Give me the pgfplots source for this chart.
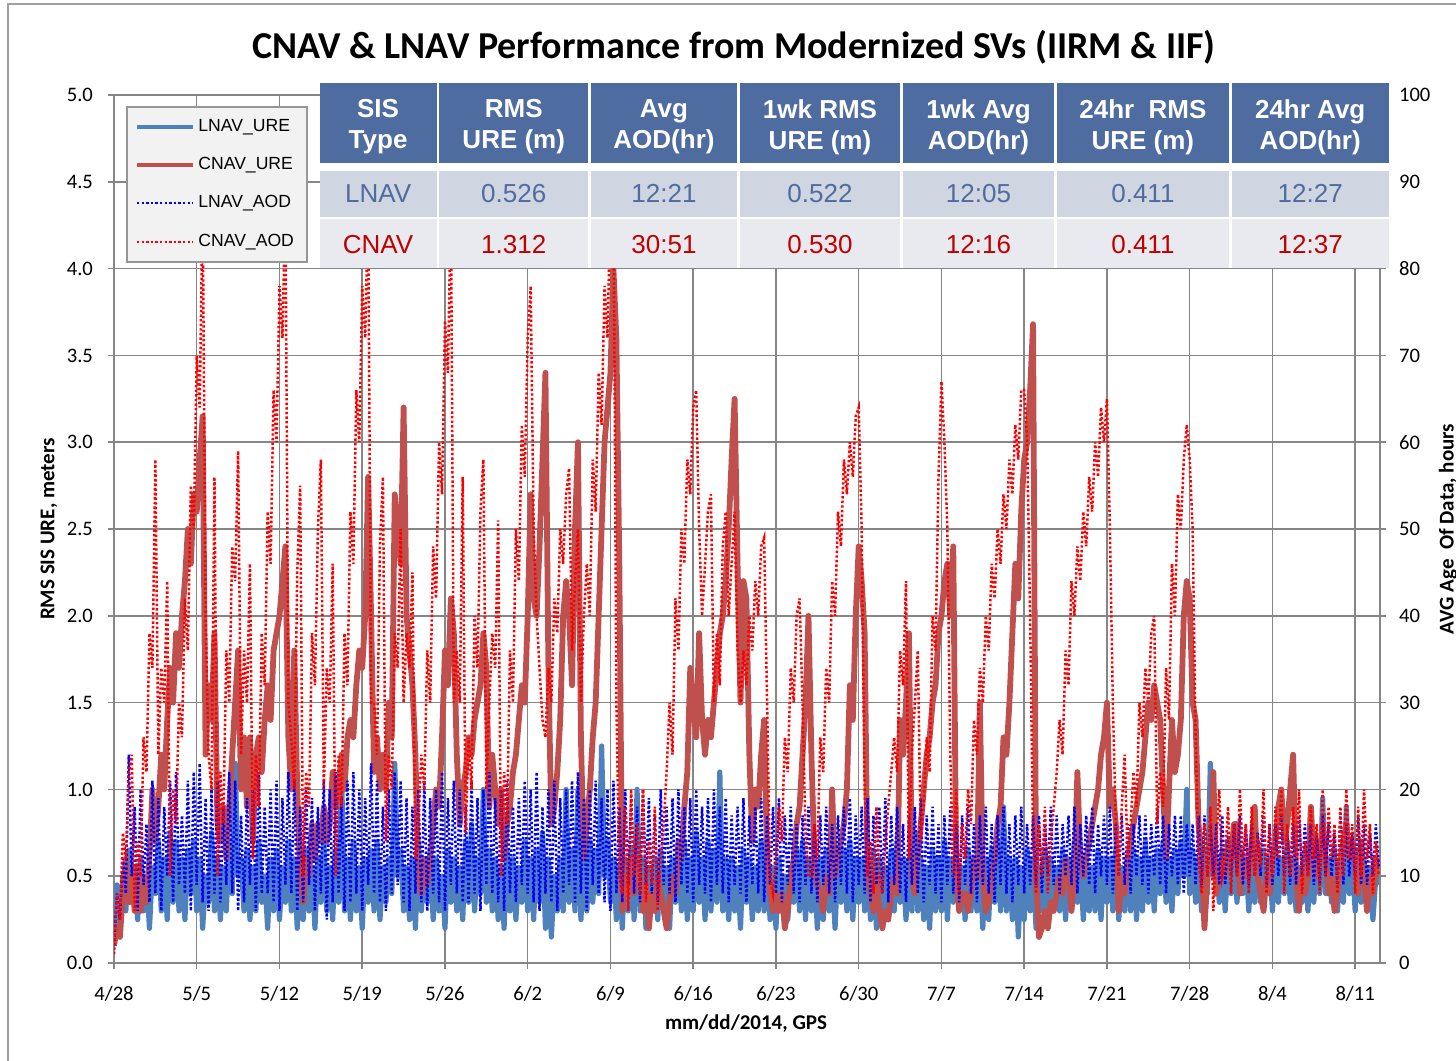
\documentclass[border=0pt]{standalone}
\usepackage{fontspec}
\setmainfont{Carlito}
\newfontfamily\arialf{Liberation Sans}
\usepackage{pgfplots}
\pgfplotsset{compat=1.18}
\definecolor{lnavure}{RGB}{79,129,189}
\definecolor{cnavure}{RGB}{192,80,77}
\definecolor{axisgray}{RGB}{134,134,134}
\definecolor{hdr}{RGB}{78,108,160}
\definecolor{rowa}{RGB}{207,213,225}
\definecolor{rowb}{RGB}{232,234,240}
\definecolor{lnavtxt}{RGB}{79,108,158}
\definecolor{cnavtxt}{RGB}{192,0,0}
\definecolor{legfill}{RGB}{242,242,242}
\newcommand\tlfont{\fontsize{10.3}{12}\selectfont}
\pgfplotsset{chartbase/.style={
  at={(57pt,-481.5pt)}, anchor=south west, scale only axis,
  width=633pt, height=434pt, xmin=0, xmax=107.1,
  axis line style={draw=axisgray, line width=0.75pt},
  tick style={draw=axisgray, line width=0.75pt},
  tick align=outside, major tick length=3pt,
  ticklabel style={font=\tlfont, text=black},
  /pgf/number format/assume math mode=true,
  clip=true,
}}
\begin{document}
\begin{tikzpicture}
\path[use as bounding box] (0pt,0pt) rectangle (728pt,-530pt);
\begin{axis}[chartbase,
  ymin=0, ymax=5, tick pos=left,
  xtick={0,7,...,105},
  xticklabels={4/28,5/5,5/12,5/19,5/26,6/2,6/9,6/16,6/23,6/30,7/7,7/14,7/21,7/28,8/4,8/11},
  ytick={0,0.5,...,5},
  yticklabel style={/pgf/number format/.cd,fixed,fixed zerofill,precision=1, /tikz/xshift=-4pt},
  xticklabel style={yshift=-5pt},
  grid=major, grid style={draw=axisgray, line width=0.75pt},
]
% LNAV_URE
\addplot[lnavure, line width=2.6pt, line join=round] table[row sep=\\, header=false, x expr=\coordindex/4, y index=0] {
0.15\\0.45\\0.2\\0.5\\0.3\\0.65\\0.35\\0.55\\
0.25\\0.6\\0.3\\0.5\\0.2\\0.55\\0.4\\0.7\\
0.3\\0.6\\0.25\\0.75\\0.35\\0.7\\0.3\\0.6\\
0.25\\0.65\\0.4\\0.7\\0.3\\0.6\\0.2\\0.5\\
0.35\\0.75\\0.3\\0.6\\0.25\\0.55\\0.3\\0.7\\
0.4\\1.15\\0.5\\0.6\\0.3\\0.65\\0.25\\0.55\\
0.3\\0.7\\0.35\\0.5\\0.2\\0.6\\0.3\\0.65\\
0.25\\0.55\\0.35\\0.7\\0.3\\0.6\\0.2\\0.5\\
0.25\\0.65\\0.3\\0.55\\0.2\\0.6\\0.35\\0.7\\
0.3\\0.55\\0.25\\0.65\\0.35\\1.1\\0.3\\0.6\\
0.25\\0.7\\0.3\\0.55\\0.2\\0.6\\0.35\\0.65\\
0.3\\0.7\\0.25\\0.55\\0.35\\0.6\\0.4\\1.15\\
0.5\\0.65\\0.3\\0.55\\0.25\\0.6\\0.2\\0.7\\
0.3\\0.55\\0.35\\0.65\\0.25\\0.6\\0.3\\0.5\\
0.2\\0.65\\0.35\\0.6\\0.3\\0.55\\0.25\\0.7\\
0.35\\0.8\\0.3\\0.6\\0.4\\1.0\\0.35\\0.65\\
0.3\\0.6\\0.25\\0.55\\0.2\\0.65\\0.3\\0.6\\
0.25\\0.55\\0.35\\0.7\\0.3\\0.6\\0.25\\0.65\\
0.35\\0.75\\0.2\\0.6\\0.15\\0.5\\0.3\\0.6\\
0.3\\1.0\\0.35\\0.65\\0.3\\1.0\\0.25\\0.6\\
0.3\\0.7\\0.35\\0.65\\0.4\\1.25\\0.5\\0.7\\
0.35\\0.6\\0.25\\0.55\\0.2\\0.6\\0.3\\0.65\\
0.25\\1.0\\0.3\\0.6\\0.2\\0.55\\0.3\\0.6\\
0.25\\0.65\\0.3\\0.55\\0.2\\0.6\\0.35\\0.65\\
0.3\\0.7\\0.25\\0.6\\0.3\\0.75\\0.35\\0.6\\
0.25\\0.7\\0.3\\0.65\\0.35\\1.1\\0.3\\0.6\\
0.25\\0.6\\0.3\\0.55\\0.2\\0.65\\0.35\\0.6\\
0.25\\0.55\\0.3\\0.7\\0.3\\0.6\\0.25\\0.55\\
0.2\\0.6\\0.3\\0.5\\0.25\\0.55\\0.35\\0.65\\
0.3\\0.7\\0.25\\0.6\\0.3\\0.55\\0.2\\0.6\\
0.25\\0.65\\0.3\\0.55\\0.2\\0.6\\0.35\\0.65\\
0.3\\0.7\\0.25\\0.6\\0.35\\0.6\\0.3\\0.55\\
0.25\\0.65\\0.2\\0.6\\0.3\\0.55\\0.25\\0.65\\
0.3\\0.7\\0.35\\0.6\\0.25\\0.6\\0.3\\0.75\\
0.3\\0.6\\0.25\\0.55\\0.2\\0.65\\0.3\\0.6\\
0.3\\0.7\\0.25\\0.6\\0.35\\0.6\\0.3\\0.55\\
0.25\\0.65\\0.3\\0.6\\0.3\\0.55\\0.2\\0.6\\
0.25\\0.65\\0.35\\0.7\\0.3\\0.9\\0.3\\0.6\\
0.25\\0.6\\0.15\\0.55\\0.25\\0.65\\0.3\\0.6\\
0.2\\0.55\\0.3\\0.65\\0.25\\0.6\\0.35\\0.55\\
0.3\\0.65\\0.25\\0.6\\0.3\\0.7\\0.35\\0.6\\
0.25\\0.6\\0.3\\0.55\\0.3\\0.65\\0.25\\0.6\\
0.35\\0.6\\0.3\\0.65\\0.25\\0.55\\0.3\\0.6\\
0.3\\0.65\\0.25\\0.6\\0.3\\0.7\\0.35\\0.6\\
0.3\\0.65\\0.4\\0.7\\0.35\\0.6\\0.3\\0.65\\
0.4\\0.7\\0.5\\1.0\\0.4\\0.65\\0.35\\0.6\\
0.3\\0.65\\0.4\\1.15\\0.5\\0.6\\0.35\\0.65\\
0.3\\0.6\\0.4\\0.7\\0.35\\0.65\\0.4\\0.6\\
0.3\\0.6\\0.35\\0.7\\0.35\\0.65\\0.4\\0.6\\
0.3\\0.65\\0.35\\0.6\\0.4\\0.7\\0.35\\0.6\\
0.3\\0.55\\0.35\\0.65\\0.3\\0.6\\0.35\\0.7\\
0.4\\0.95\\0.4\\0.6\\0.35\\0.65\\0.3\\0.6\\
0.35\\0.9\\0.4\\0.6\\0.3\\0.65\\0.35\\0.6\\
0.3\\0.55\\0.25\\0.5\\0.45\\
};
% CNAV_URE
\addplot[cnavure, line width=2.9pt, line join=round] table[row sep=\\, header=false, x expr=\coordindex/4, y index=0] {
0.1\\0.2\\0.15\\0.4\\0.6\\0.35\\0.5\\0.3\\
0.55\\0.3\\0.5\\0.35\\0.6\\1.0\\0.7\\0.9\\
1.2\\1.0\\1.4\\1.7\\1.5\\1.9\\1.7\\2.0\\
2.2\\2.5\\2.3\\2.7\\2.6\\2.9\\3.15\\1.2\\
1.6\\1.4\\1.9\\0.8\\0.7\\0.9\\0.6\\0.9\\
1.2\\1.5\\1.8\\1.0\\1.3\\0.9\\1.3\\0.7\\
1.2\\1.3\\1.1\\1.4\\1.6\\1.4\\1.8\\1.9\\
2.0\\2.2\\2.4\\1.3\\1.0\\1.8\\1.0\\0.5\\
0.35\\0.6\\0.5\\0.8\\0.6\\0.8\\0.7\\0.9\\
0.7\\0.8\\1.1\\0.9\\1.0\\1.2\\1.0\\1.3\\
1.4\\1.3\\1.6\\1.8\\1.7\\2.0\\2.8\\2.0\\
1.1\\1.3\\1.0\\1.2\\1.0\\1.5\\1.3\\2.7\\
2.5\\2.3\\3.2\\2.0\\1.8\\1.6\\1.2\\0.5\\
0.4\\0.6\\0.45\\0.6\\0.8\\1.0\\0.9\\1.3\\
1.8\\1.6\\2.1\\1.9\\1.2\\0.8\\1.0\\1.1\\
1.3\\1.2\\1.4\\1.5\\1.6\\1.9\\1.7\\0.9\\
1.2\\1.0\\0.8\\1.0\\0.6\\0.8\\0.9\\1.1\\
1.2\\1.4\\1.6\\1.5\\2.0\\2.7\\2.1\\2.0\\
2.4\\2.9\\3.4\\1.7\\0.8\\0.9\\1.1\\1.4\\
2.0\\2.2\\2.0\\1.6\\2.5\\3.0\\1.3\\0.6\\
0.8\\1.0\\1.3\\1.5\\2.0\\2.5\\3.0\\3.2\\
3.4\\4.0\\3.6\\2.3\\0.3\\0.5\\0.4\\0.6\\
0.4\\0.6\\0.5\\0.3\\0.45\\0.2\\0.4\\0.3\\
0.5\\0.4\\0.3\\0.2\\0.35\\0.5\\0.4\\0.7\\
0.6\\0.9\\1.1\\1.7\\1.5\\1.3\\1.9\\1.4\\
1.2\\1.4\\1.3\\1.5\\1.7\\1.9\\2.0\\2.2\\
2.5\\2.9\\3.25\\2.3\\1.5\\2.2\\2.1\\1.2\\
0.7\\1.0\\0.9\\1.2\\1.4\\0.6\\0.4\\0.3\\
0.4\\0.3\\0.4\\0.2\\0.3\\0.5\\0.6\\0.8\\
0.9\\1.2\\1.5\\2.0\\1.2\\0.6\\0.45\\0.4\\
0.3\\0.5\\0.4\\1.0\\0.5\\0.6\\0.7\\0.8\\
1.0\\1.6\\1.4\\2.0\\2.4\\2.2\\1.9\\0.5\\
0.4\\0.3\\0.5\\0.3\\0.2\\0.3\\0.25\\0.4\\
0.5\\0.4\\1.4\\1.2\\1.5\\1.9\\0.5\\0.4\\
0.6\\0.8\\1.0\\1.2\\1.3\\1.5\\1.6\\1.9\\
2.0\\2.2\\2.3\\2.0\\2.4\\0.5\\0.3\\0.4\\
0.4\\0.3\\0.4\\0.6\\0.5\\1.5\\0.5\\0.3\\
0.35\\0.5\\0.6\\0.8\\0.9\\1.3\\1.2\\1.5\\
1.9\\2.3\\2.1\\2.6\\2.9\\3.0\\3.3\\3.68\\
0.5\\0.15\\0.2\\0.3\\0.2\\0.35\\0.3\\0.4\\
0.5\\0.4\\0.6\\0.5\\0.3\\0.5\\1.1\\0.6\\
0.5\\0.6\\0.7\\0.8\\0.9\\1.0\\1.2\\1.3\\
1.5\\0.9\\1.0\\0.8\\0.3\\0.5\\0.4\\0.6\\
0.7\\0.8\\0.9\\1.0\\1.1\\1.3\\1.5\\1.4\\
1.6\\1.5\\1.4\\1.0\\0.6\\1.0\\1.4\\1.1\\
1.2\\1.4\\2.0\\2.2\\2.1\\1.5\\1.4\\0.8\\
0.6\\0.2\\0.5\\0.6\\1.1\\0.4\\0.5\\0.6\\
0.5\\0.7\\0.6\\0.8\\0.8\\0.4\\0.6\\0.5\\
0.5\\0.7\\0.9\\0.5\\0.4\\0.3\\0.5\\0.4\\
0.6\\0.7\\0.9\\1.0\\0.7\\0.8\\1.0\\1.2\\
0.5\\0.3\\0.5\\0.4\\0.5\\0.9\\0.6\\0.5\\
0.6\\0.8\\0.6\\0.4\\0.5\\0.3\\0.4\\0.6\\
0.7\\0.8\\0.6\\0.7\\0.6\\0.4\\0.7\\0.5\\
0.3\\0.5\\0.4\\0.6\\0.5\\
};
\end{axis}
\begin{axis}[chartbase,
  ymin=0, ymax=100, axis y line*=right, axis x line=none,
  ytick={0,10,...,100},
  yticklabel style={xshift=3pt},
]
% LNAV_AOD (hours)
\addplot[blue, line width=1.25pt, dash pattern=on 1.2pt off 1.1pt] table[row sep=\\, header=false, x expr=\coordindex/4, y index=0] {
2\\8\\5\\12\\8\\24\\10\\18\\
6\\20\\9\\16\\7\\21\\8\\19\\
6\\18\\10\\21\\7\\22\\9\\17\\
8\\21\\6\\22\\9\\23\\7\\19\\
6\\20\\8\\21\\7\\18\\9\\22\\
8\\21\\6\\17\\7\\19\\9\\20\\
6\\22\\8\\18\\8\\20\\7\\21\\
6\\19\\9\\22\\8\\21\\6\\18\\
7\\20\\9\\19\\6\\18\\8\\21\\
5\\20\\7\\22\\8\\19\\6\\21\\
7\\22\\8\\20\\6\\19\\9\\23\\
8\\21\\7\\18\\6\\20\\8\\22\\
9\\21\\7\\19\\6\\18\\8\\20\\
7\\21\\6\\19\\8\\20\\7\\22\\
6\\19\\9\\21\\8\\20\\7\\18\\
7\\21\\8\\19\\6\\20\\9\\22\\
8\\19\\7\\20\\6\\21\\8\\18\\
7\\19\\9\\21\\8\\20\\7\\22\\
6\\18\\8\\20\\7\\21\\6\\19\\
8\\20\\9\\21\\7\\22\\8\\19\\
6\\20\\9\\21\\8\\19\\7\\20\\
6\\21\\8\\18\\7\\20\\9\\19\\
8\\18\\7\\20\\9\\19\\8\\17\\
7\\20\\9\\18\\8\\19\\7\\20\\
9\\18\\8\\19\\7\\20\\9\\18\\
8\\19\\7\\20\\9\\18\\8\\19\\
7\\17\\9\\18\\8\\19\\7\\17\\
9\\18\\8\\19\\7\\17\\9\\18\\
8\\19\\7\\17\\9\\18\\8\\16\\
7\\17\\9\\18\\8\\16\\7\\17\\
9\\18\\8\\16\\7\\17\\9\\18\\
8\\19\\7\\17\\9\\18\\8\\19\\
7\\17\\9\\18\\8\\19\\7\\17\\
9\\18\\8\\16\\7\\17\\9\\18\\
8\\19\\7\\17\\9\\18\\8\\16\\
7\\17\\9\\18\\8\\16\\7\\17\\
9\\18\\8\\16\\7\\17\\9\\18\\
8\\16\\7\\17\\9\\18\\8\\16\\
7\\17\\9\\18\\8\\16\\9\\17\\
9\\17\\8\\16\\10\\18\\9\\17\\
8\\16\\10\\17\\9\\18\\8\\16\\
10\\17\\9\\18\\8\\16\\10\\17\\
9\\18\\8\\16\\10\\17\\9\\16\\
8\\16\\10\\17\\9\\17\\8\\16\\
10\\18\\9\\17\\8\\16\\10\\17\\
9\\17\\8\\16\\10\\16\\9\\17\\
9\\17\\10\\16\\10\\16\\9\\17\\
9\\15\\10\\16\\10\\17\\9\\16\\
9\\16\\10\\15\\10\\17\\9\\16\\
9\\16\\10\\17\\10\\15\\9\\16\\
9\\17\\10\\16\\10\\16\\9\\15\\
9\\17\\10\\16\\10\\15\\9\\17\\
9\\16\\10\\15\\10\\17\\9\\16\\
9\\15\\10\\16\\11\\
};
% CNAV_AOD (hours)
\addplot[red, line width=1.25pt, dash pattern=on 1.2pt off 1.1pt] table[row sep=\\, header=false, x expr=\coordindex/4, y index=0] {
1\\8\\5\\15\\12\\22\\24\\6\\
14\\10\\26\\22\\38\\34\\58\\24\\
34\\30\\44\\10\\20\\16\\30\\26\\
42\\36\\55\\50\\70\\64\\88\\40\\
24\\20\\56\\10\\22\\16\\36\\30\\
48\\44\\59\\24\\36\\30\\46\\12\\
24\\18\\38\\32\\52\\46\\66\\60\\
78\\72\\88\\30\\26\\20\\45\\55\\
10\\22\\18\\38\\32\\50\\58\\20\\
34\\30\\46\\10\\24\\18\\38\\32\\
52\\46\\66\\60\\78\\72\\88\\30\\
30\\24\\48\\56\\14\\24\\20\\38\\
34\\50\\30\\38\\34\\45\\12\\16\\
24\\20\\36\\30\\48\\42\\60\\54\\
74\\68\\88\\30\\36\\30\\56\\15\\
26\\20\\40\\34\\52\\58\\20\\30\\
38\\34\\51\\10\\22\\16\\36\\30\\
50\\44\\62\\56\\72\\78\\50\\40\\
34\\28\\26\\34\\30\\42\\38\\50\\
46\\54\\57\\36\\44\\50\\30\\40\\
46\\40\\58\\52\\68\\62\\78\\72\\
88\\92\\30\\10\\8\\18\\6\\20\\
10\\16\\8\\20\\7\\14\\9\\18\\
6\\12\\16\\22\\30\\24\\42\\36\\
50\\46\\58\\54\\64\\66\\50\\40\\
46\\52\\54\\30\\38\\32\\48\\52\\
40\\46\\52\\36\\30\\36\\32\\40\\
36\\44\\40\\48\\49\\30\\10\\8\\
12\\18\\14\\26\\22\\34\\30\\40\\
42\\30\\15\\10\\10\\16\\12\\26\\
22\\34\\30\\44\\40\\52\\48\\58\\
54\\60\\56\\63\\64\\50\\20\\10\\
14\\8\\18\\10\\8\\14\\18\\22\\
26\\22\\36\\32\\44\\12\\24\\30\\
36\\14\\18\\26\\22\\40\\36\\56\\
67\\60\\50\\24\\10\\20\\8\\16\\
12\\20\\16\\28\\24\\34\\30\\40\\
36\\46\\42\\50\\46\\54\\50\\58\\
54\\62\\58\\66\\66\\60\\40\\14\\
8\\16\\10\\18\\8\\14\\18\\22\\
28\\24\\36\\32\\44\\40\\48\\44\\
52\\48\\56\\52\\60\\56\\64\\60\\
65\\50\\30\\16\\10\\18\\24\\12\\
16\\22\\18\\30\\26\\34\\30\\38\\
40\\16\\22\\18\\34\\28\\46\\40\\
54\\50\\58\\62\\58\\50\\26\\12\\
8\\16\\10\\18\\6\\14\\20\\10\\
12\\18\\8\\16\\10\\20\\12\\16\\
8\\18\\10\\14\\12\\20\\8\\16\\
10\\18\\12\\20\\8\\16\\10\\18\\
12\\20\\8\\14\\10\\18\\12\\16\\
8\\20\\10\\18\\12\\16\\8\\18\\
10\\20\\12\\16\\8\\18\\10\\20\\
12\\16\\8\\14\\10\\
};
\end{axis}
\begin{scope}[x=0.5pt,y=-0.5pt]
% outer frame
\draw[draw={rgb,255:red,160;green,160;blue,160}, line width=1.2pt] (8,1062) -- (8,4) -- (1460,4);
% title
\node[font=\fontsize{19}{22}\selectfont\bfseries] at (734,47) {CNAV \& LNAV Performance from Modernized SVs (IIRM \& IIF)};
% axis labels
\node[font=\fontsize{10.5}{12}\selectfont\bfseries] at (746,1024) {mm/dd/2014, GPS};
\node[font=\fontsize{10.5}{12}\selectfont\bfseries, rotate=90] at (49,529) {RMS SIS URE, meters};
\node[font=\fontsize{10.5}{12}\selectfont\bfseries, rotate=90] at (1448,529) {AVG Age\ \ Of Data, hours};
% legend
\filldraw[fill=legfill, draw={rgb,255:red,150;green,150;blue,150}, line width=0.9pt] (127,107) rectangle (307,262);
\draw[lnavure, line width=2pt] (137,127) -- (193,127);
\draw[cnavure, line width=2.2pt] (137,165) -- (193,165);
\draw[blue, line width=1.25pt, dash pattern=on 1.2pt off 1.1pt] (137,203) -- (193,203);
\draw[red, line width=1.25pt, dash pattern=on 1.2pt off 1.1pt] (137,242) -- (193,242);
\begin{scope}[every node/.style={anchor=west, font=\arialf\fontsize{8.8}{10}\selectfont, inner sep=0pt}]
\node at (198,127) {LNAV\_URE};
\node at (198,165) {CNAV\_URE};
\node at (198,203) {LNAV\_AOD};
\node at (198,242) {CNAV\_AOD};
\end{scope}
% table
\fill[white] (319.5,82.5) rectangle (1388.7,267.7);
\foreach \l/\r/\ha/\hb/\va/\vb [count=\i] in {
 319.5/436.7/SIS/Type/LNAV/CNAV,
 439.3/588.2/RMS/URE (m)/0.526/1.312,
 590.8/737.2/Avg/AOD(hr)/12:21/30:51,
 739.8/900.2/1wk RMS/URE (m)/0.522/0.530,
 902.8/1054.2/1wk Avg/AOD(hr)/12:05/12:16,
 1056.8/1229.0/24hr\ \ RMS/URE (m)/0.411/0.411,
 1231.7/1388.7/24hr Avg/AOD(hr)/12:27/12:37} {
  \fill[hdr] (\l,82.5) rectangle (\r,162.5);
  \fill[rowa] (\l,171) rectangle (\r,216.7);
  \fill[rowb] (\l,219.3) rectangle (\r,267.7);
  \node[text=white, font=\arialf\bfseries\fontsize{13}{15.5}\selectfont, align=center] at ({(\l+\r)/2},127) {\ha\\\hb};
  \node[text=lnavtxt, font=\arialf\fontsize{13}{15}\selectfont] at ({(\l+\r)/2},193.5) {\va};
  \node[text=cnavtxt, font=\arialf\fontsize{13}{15}\selectfont] at ({(\l+\r)/2},244.5) {\vb};
}
\end{scope}
\end{tikzpicture}
\end{document}
